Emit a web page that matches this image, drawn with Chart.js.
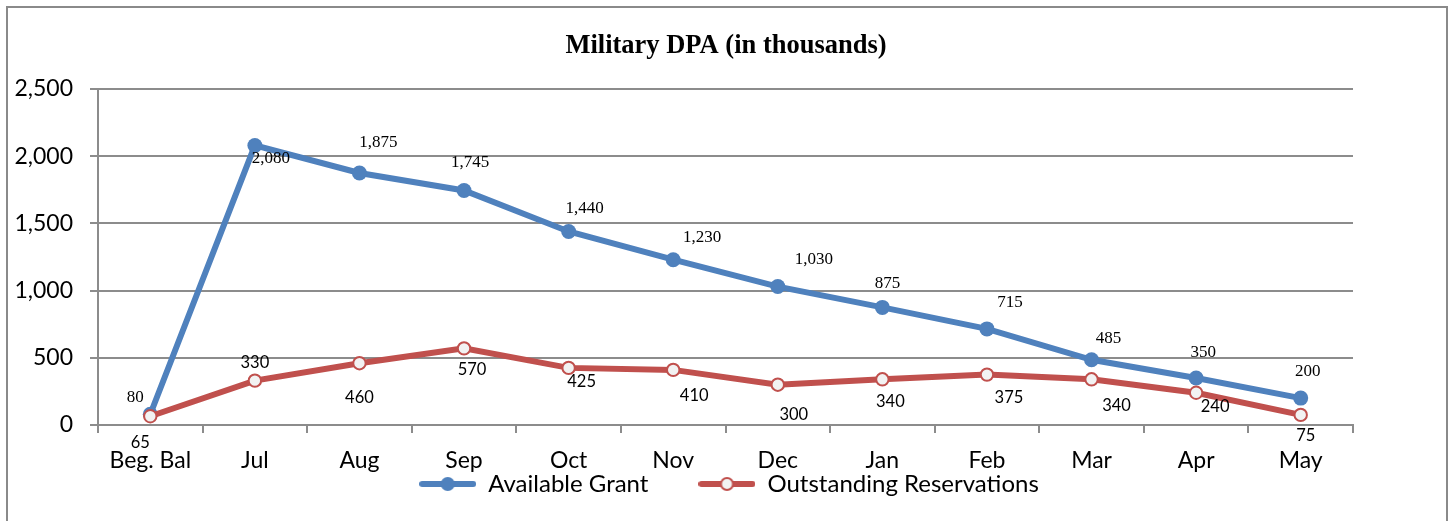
<!DOCTYPE html>
<html>
<head>
<meta charset="utf-8">
<script src="https://cdn.jsdelivr.net/npm/chart.js@4.4.1/dist/chart.umd.min.js"></script>
<style>
  html, body { margin: 0; padding: 0; background: #fff; overflow: hidden; }
  #wrap { position: absolute; left: 0; top: 0; width: 1452px; height: 521px; }
  #frame { position: absolute; left: 6px; top: 6px; width: 1438px; height: 600px;
           border: 2px solid #8a8a8a; pointer-events: none; }
</style>
</head>
<body>
<div id="frame"></div>
<div id="wrap"><canvas id="dpa" width="1452" height="521"></canvas></div>
<script>
// ---- data ----
const chartTitle = 'Military DPA (in thousands)';
const categories = ['Beg. Bal', 'Jul', 'Aug', 'Sep', 'Oct', 'Nov', 'Dec', 'Jan', 'Feb', 'Mar', 'Apr', 'May'];
const seriesNames = ['Available Grant', 'Outstanding Reservations'];
const availableGrant = [80, 2080, 1875, 1745, 1440, 1230, 1030, 875, 715, 485, 350, 200];
const outstandingReservations = [65, 330, 460, 570, 425, 410, 300, 340, 375, 340, 240, 75];
const yTickValues = [0, 500, 1000, 1500, 2000, 2500];

// ---- styling ----
const BLUE = '#4f81bd';
const RED = '#c0504d';
const GRID = '#8c8c8c';
const SANS = 'Lato, "Open Sans", sans-serif';
const SERIF = '"Liberation Serif", "DejaVu Serif", serif';

// value-label placement relative to each point (dx, dy in px)
const grantLabelOffsets = [[-15, -17], [16, 13], [19, -30], [6, -28], [16, -23], [29, -22],
                           [36, -27], [5, -24], [23, -26], [17, -21], [7, -25], [7, -27]];
const reservLabelOffsets = [[-10, 26], [0, -18], [0, 34], [8, 21], [13, 14], [21, 26],
                            [16, 30], [8, 22], [22, 23], [25, 26], [19, 14], [5, 21]];

const fmt = v => v.toLocaleString('en-US');

// legend glyph: short line with a marker in the middle
function legendGlyph(lineColor, fill, stroke) {
  const c = document.createElement('canvas');
  c.width = 57; c.height = 18;
  const g = c.getContext('2d');
  g.strokeStyle = lineColor; g.lineWidth = 6; g.lineCap = 'round';
  g.beginPath(); g.moveTo(3, 9); g.lineTo(54, 9); g.stroke();
  g.beginPath(); g.arc(28.5, 9, stroke ? 6 : 7, 0, Math.PI * 2);
  g.fillStyle = fill; g.fill();
  if (stroke) { g.lineWidth = 2; g.strokeStyle = stroke; g.stroke(); }
  return c;
}
const glyphs = [legendGlyph(BLUE, BLUE, null), legendGlyph(RED, '#f2f2f2', RED)];

// chart title text
const titlePlugin = {
  id: 'dpaTitle',
  afterDraw(chart) {
    const ctx = chart.ctx;
    ctx.save();
    ctx.font = 'bold 26.5px ' + SERIF;
    ctx.fillStyle = '#000';
    ctx.textAlign = 'center';
    ctx.textBaseline = 'alphabetic';
    ctx.fillText(chartTitle, chart.width / 2, 53);
    ctx.restore();
  }
};

// numeric labels next to every point
const valueLabels = {
  id: 'valueLabels',
  afterDatasetsDraw(chart) {
    const ctx = chart.ctx;
    const specs = [
      { offsets: grantLabelOffsets, font: '17px ' + SERIF },
      { offsets: reservLabelOffsets, font: '16.5px ' + SANS }
    ];
    chart.data.datasets.forEach((ds, di) => {
      const meta = chart.getDatasetMeta(di);
      const spec = specs[di];
      ctx.save();
      ctx.font = spec.font;
      ctx.fillStyle = '#000';
      ctx.textAlign = 'center';
      ctx.textBaseline = 'middle';
      meta.data.forEach((pt, i) => {
        const [dx, dy] = spec.offsets[i];
        ctx.fillText(fmt(ds.data[i]), pt.x + dx, pt.y + dy);
      });
      ctx.restore();
    });
  }
};

// place the legend row just under the category labels, centred on the page
const legendPlace = {
  id: 'legendPlace',
  afterLayout(chart) {
    const lg = chart.legend;
    if (!lg) return;
    const dx = 729 - (lg.left + lg.right) / 2;
    lg.left += dx; lg.right += dx;
    const h = lg.bottom - lg.top;
    lg.top = 422; lg.bottom = 422 + h;
  }
};

new Chart(document.getElementById('dpa'), {
  type: 'line',
  data: {
    labels: categories,
    datasets: [
      {
        label: seriesNames[0],
        data: availableGrant,
        borderColor: BLUE,
        backgroundColor: BLUE,
        borderWidth: 6,
        pointRadius: 7.5,
        pointBorderWidth: 0,
        pointBackgroundColor: BLUE,
        tension: 0,
        order: 1
      },
      {
        label: seriesNames[1],
        data: outstandingReservations,
        borderColor: RED,
        backgroundColor: RED,
        borderWidth: 6,
        pointRadius: 6.2,
        pointBorderWidth: 2,
        pointBorderColor: RED,
        pointBackgroundColor: '#f2f2f2',
        tension: 0,
        order: 0
      }
    ]
  },
  options: {
    responsive: false,
    animation: false,
    devicePixelRatio: 1,
    layout: { padding: { left: 10, right: 99, top: 89, bottom: -38 } },
    scales: {
      x: {
        offset: true,
        grid: { drawOnChartArea: false, drawTicks: true, tickLength: 8, color: GRID, lineWidth: 2, offset: true },
        border: { color: GRID, width: 2 },
        ticks: { color: '#000', font: { family: SANS, size: 23 }, padding: 14, maxRotation: 0, autoSkip: false },
        afterFit(scale) { scale.height = 50; }
      },
      y: {
        min: 0,
        max: 2500,
        afterBuildTicks(scale) { scale.ticks = yTickValues.map(v => ({ value: v })); },
        grid: { color: GRID, lineWidth: 2, tickLength: 8, drawTicks: true },
        border: { color: GRID, width: 2 },
        ticks: { color: '#000', font: { family: SANS, size: 23 }, padding: 17,
                 callback: v => fmt(v) },
        afterFit(scale) { scale.width = 88; }
      }
    },
    plugins: {
      title: { display: false },
      tooltip: { enabled: false },
      legend: {
        display: true,
        position: 'bottom',
        labels: {
          color: '#000',
          font: { family: SANS, size: 24 },
          usePointStyle: true,
          pointStyleWidth: 57,
          padding: 50,
          sort: (a, b) => a.datasetIndex - b.datasetIndex,
          generateLabels(chart) {
            const items = Chart.defaults.plugins.legend.labels.generateLabels(chart);
            items.forEach(it => { it.pointStyle = glyphs[it.datasetIndex]; });
            return items;
          }
        }
      }
    }
  },
  plugins: [titlePlugin, valueLabels, legendPlace]
});
</script>
</body>
</html>
